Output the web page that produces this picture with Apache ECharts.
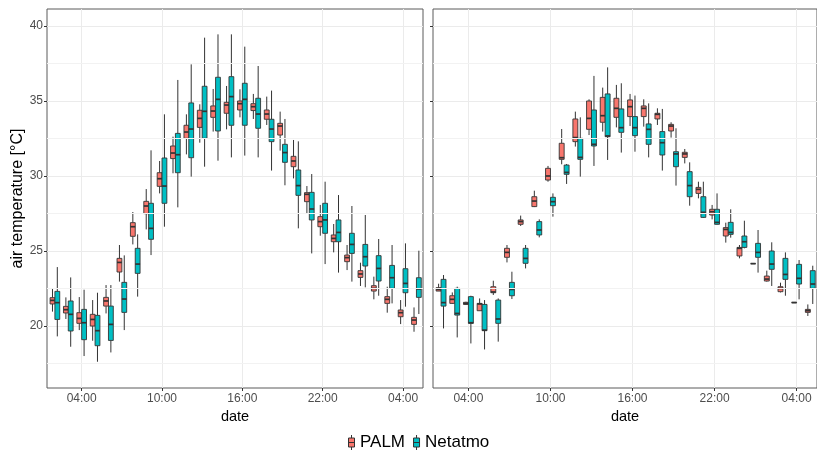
<!DOCTYPE html>
<html><head><meta charset="utf-8">
<script src="https://cdn.jsdelivr.net/npm/echarts@6/dist/echarts.min.js"></script>
<style>html,body{margin:0;padding:0;background:#fff}#c{width:817px;height:450px}</style>
</head><body><div id="c"></div>
<script>
// hours since 00:00 of day 1 (28 = 04:00 next day)
const hours = [2,3,4,5,6,7,8,9,10,11,12,13,14,15,16,17,18,19,20,21,22,23,24,25,26,27,28,29];
const xTickHours = [4,10,16,22,28];
const yTickValues = [20,25,30,35,40];
const yMinorValues = [17.5,22.5,27.5,32.5,37.5];
const seriesNames = ['PALM','Netatmo'];

// each entry: [lower whisker, Q1, median, Q3, upper whisker]
const palmLeft = [
[20.96,21.47,21.71,21.89,22.51],[20.47,20.87,21.09,21.31,21.91],[19.73,20.18,20.51,20.89,21.93],
[19.02,20.0,20.44,20.78,21.73],[20.84,21.33,21.67,21.91,22.73],[22.96,23.6,24.24,24.51,25.4],
[25.44,25.98,26.62,26.89,27.6],[26.44,27.49,28.0,28.31,29.13],[28.84,29.31,29.82,30.22,31.0],
[30.18,31.16,31.53,32.0,32.62],[31.44,32.51,32.93,33.38,34.11],[32.22,33.24,33.84,34.38,34.78],
[32.96,33.91,34.33,34.67,35.8],[33.11,34.18,34.73,34.91,36.0],[33.91,34.4,34.82,35.0,35.78],
[33.8,34.36,34.62,34.82,35.47],[33.4,33.78,34.13,34.4,35.29],[31.69,32.73,33.33,33.51,34.29],
[29.84,30.62,31.0,31.31,32.4],[27.51,28.29,28.78,28.89,29.33],[26.02,26.62,26.96,27.29,28.07],
[24.91,25.62,25.84,26.07,26.8],[23.73,24.29,24.56,24.73,25.4],[22.67,23.24,23.47,23.69,24.22],
[21.78,22.33,22.51,22.69,23.29],[20.89,21.51,21.78,21.96,22.62],[20.13,20.62,20.89,21.07,21.73],
[19.62,20.11,20.4,20.58,21.24]];
const netatmoLeft = [
[19.31,20.44,21.56,22.31,23.93],[18.62,19.67,20.78,21.67,23.24],[18.0,19.09,20.22,21.11,22.42],
[17.62,18.69,19.69,20.71,22.22],[18.24,19.04,20.11,21.33,22.73],[19.73,20.91,21.8,22.91,24.71],
[21.96,23.51,24.13,25.18,26.11],[24.73,25.78,26.51,28.18,31.71],[26.62,28.18,29.33,31.2,34.11],
[27.91,30.22,31.42,32.84,36.4],[29.96,31.22,33.13,34.87,37.44],[30.62,32.51,34.31,35.98,39.22],
[31.02,33.0,35.11,36.58,39.44],[31.24,33.38,35.29,36.62,39.44],[31.36,33.38,35.11,36.18,38.62],
[31.24,33.18,34.13,35.18,37.33],[30.36,32.29,33.13,33.78,35.69],[29.38,30.91,31.56,32.11,33.8],
[26.51,28.71,29.36,30.4,32.31],[24.84,27.07,27.8,28.91,30.13],[24.13,26.18,27.07,28.18,29.62],
[23.56,25.62,26.24,27.07,28.73],[22.96,24.84,25.44,26.18,28.0],[22.58,24.0,24.62,25.44,27.4],
[22.02,23.0,23.84,24.69,25.8],[21.51,22.51,23.22,24.04,25.4],[21.29,22.22,22.84,23.82,25.51],
[20.8,21.91,22.47,23.22,25.02]];
const palmRight = [
[22.33,22.33,22.44,22.56,22.82],[21.47,21.51,21.78,22.02,22.24],[21.4,21.44,21.51,21.58,21.62],
[21.0,21.02,21.47,21.51,21.84],[22.07,22.22,22.27,22.62,23.02],[24.24,24.58,24.91,25.18,25.4],
[26.67,26.78,26.96,27.07,27.36],[27.93,27.96,28.33,28.62,29.02],[29.62,29.73,30.0,30.51,30.67],
[30.78,31.11,31.22,32.18,33.13],[31.96,32.29,32.56,33.8,34.29],[32.73,33.11,33.84,35.0,35.11],
[32.96,33.58,34.02,35.24,35.89],[33.24,33.91,34.51,35.18,36.07],[33.33,33.96,34.62,35.07,35.47],
[33.29,33.96,34.51,34.67,35.11],[33.4,33.8,34.11,34.18,34.51],[32.56,33.0,33.33,33.44,33.58],
[30.84,31.24,31.47,31.58,31.8],[28.51,28.84,29.11,29.24,29.62],[27.11,27.4,27.62,27.78,28.07],
[25.56,26.0,26.44,26.56,26.89],[24.51,24.67,25.18,25.24,25.4],[24.16,24.16,24.16,24.16,24.16],
[22.96,23.0,23.13,23.33,23.69],[22.24,22.29,22.51,22.62,22.89],[21.56,21.56,21.56,21.58,21.6],
[20.67,20.91,21.02,21.11,21.44]];
const netatmoRight = [
[19.84,21.33,21.56,23.11,23.4],[19.24,20.73,20.84,22.51,22.62],[18.84,20.18,20.22,21.96,22.02],
[18.44,19.69,19.73,21.44,21.73],[18.96,20.18,20.47,21.73,21.84],[21.8,22.02,22.44,22.91,23.62],
[23.84,24.18,24.51,25.18,25.4],[25.91,26.07,26.4,26.96,27.11],[27.29,28.02,28.29,28.58,28.84],
[29.47,30.11,30.24,30.73,30.8],[29.96,31.11,31.24,32.51,33.91],[30.67,32.0,32.11,34.4,36.67],
[31.07,32.62,32.67,35.47,37.24],[31.56,32.91,33.22,34.47,36.18],[31.62,32.69,33.22,33.96,35.36],
[31.24,32.11,33.11,33.47,34.84],[30.36,31.4,32.22,32.96,34.47],[29.36,30.62,31.47,31.62,33.18],
[28.02,28.62,29.36,30.29,30.91],[27.2,27.24,27.58,28.62,29.62],[26.75,26.78,26.91,27.78,28.84],
[25.89,26.11,26.24,26.91,27.78],[25.18,25.24,25.62,26.0,27.02],[23.56,24.58,24.91,25.51,26.4],
[22.67,23.78,24.13,25.0,25.58],[22.02,23.11,23.44,24.51,24.91],[21.78,22.8,23.18,24.11,24.4],
[21.47,22.51,22.8,23.69,24.02]];

const COLORS = {PALM:'#F8766D', Netatmo:'#00BFC4'};
const BOX_W = 0.36, DODGE = 0.18;
const EDGE = '#333333';
const FONT = '"Liberation Sans", Arial, sans-serif';

function makeRender(offset){
  return function(params, api){
    const x = api.value(0) + offset;
    const lo = api.coord([x, api.value(1)]);
    const q1 = api.coord([x, api.value(2)]);
    const md = api.coord([x, api.value(3)]);
    const q3 = api.coord([x, api.value(4)]);
    const hi = api.coord([x, api.value(5)]);
    const w = api.size([BOX_W, 0])[0];
    const cx = lo[0];
    const fill = api.visual('color');
    return {type:'group', children:[
      {type:'line', shape:{x1:cx,y1:hi[1],x2:cx,y2:q3[1]}, style:{stroke:EDGE,lineWidth:1}},
      {type:'line', shape:{x1:cx,y1:q1[1],x2:cx,y2:lo[1]}, style:{stroke:EDGE,lineWidth:1}},
      {type:'rect', shape:{x:cx-w/2,y:q3[1],width:w,height:Math.max(q1[1]-q3[1],0.01)}, style:{fill:fill,stroke:EDGE,lineWidth:0.9}},
      {type:'line', shape:{x1:cx-w/2,y1:md[1],x2:cx+w/2,y2:md[1]}, style:{stroke:EDGE,lineWidth:1.7}}
    ]};
  };
}
function toData(arr){ return hours.map((h,i)=>[h].concat(arr[i])); }
function fmtHour(v){ return String(((v%24)+24)%24).padStart(2,'0') + ':00'; }

const grids = [
  {left:47, width:376, top:9, bottom:62, show:true, borderColor:'#5a5a5a', borderWidth:1, backgroundColor:'#fff'},
  {left:433, width:388, top:9, bottom:62, show:true, borderColor:'#5a5a5a', borderWidth:1, backgroundColor:'#fff'}
];
const xAxes = [0,1].map(i=>({
  type:'value', gridIndex:i, min:1.41, max:29.49,
  name:'date', nameLocation:'middle', nameGap:21,
  nameTextStyle:{fontFamily:FONT, fontSize:14.5, color:'#000'},
  axisLine:{show:false},
  axisTick:{show:true, length:3, inside:false, lineStyle:{color:EDGE}, customValues:xTickHours},
  axisLabel:{show:true, margin:5, fontFamily:FONT, fontSize:12, color:'#4D4D4D', formatter:fmtHour, customValues:xTickHours, showMinLabel:true, showMaxLabel:true},
  splitLine:{show:true, lineStyle:{color:'#EBEBEB', width:1}}
}));
const yAxes = [0,1].map(i=>({
  type:'value', gridIndex:i, min:15.87, max:41.13,
  name: i===0 ? 'air temperature [°C]' : '', nameLocation:'middle', nameGap:18,
  nameTextStyle:{fontFamily:FONT, fontSize:16, color:'#000'},
  axisLine:{show:false},
  axisTick:{show:true, length:3, inside:false, lineStyle:{color:EDGE}, customValues:yTickValues},
  axisLabel:{show:i===0, margin:4, fontFamily:FONT, fontSize:12, color:'#4D4D4D', customValues:yTickValues},
  splitLine:{show:true, lineStyle:{color:'#EBEBEB', width:1}}
}));

const series = [];
[[palmLeft, netatmoLeft],[palmRight, netatmoRight]].forEach((pair, gi)=>{
  series.push({
    type:'line', name:'_minor'+gi, xAxisIndex:gi, yAxisIndex:gi, data:[], z:1, silent:true,
    markLine:{silent:true, symbol:'none', label:{show:false}, animation:false,
      lineStyle:{color:'#F2F2F2', width:1, type:'solid'},
      data: yMinorValues.map(v=>({yAxis:v}))}
  });
  pair.forEach((arr, si)=>{
    const nm = seriesNames[si];
    series.push({
      type:'custom', name:nm, xAxisIndex:gi, yAxisIndex:gi, z:3,
      renderItem: makeRender(si===0 ? -DODGE : DODGE),
      itemStyle:{color:COLORS[nm]},
      encode:{x:0, y:[1,2,3,4,5]},
      data: toData(arr), animation:false
    });
  });
});

const keyIcon = 'path://M3,0V3M3,12V15M0,3H6V12H0ZM0,7.5H6';
const option = {
  backgroundColor:'#ffffff',
  animation:false,
  grid: grids, xAxis: xAxes, yAxis: yAxes, series: series,
  legend:{
    left:343, top:429, orient:'horizontal', itemGap:8, itemWidth:7, itemHeight:15,
    textStyle:{fontFamily:FONT, fontSize:17, color:'#000'},
    data: seriesNames.map(n=>({name:n, icon:keyIcon, itemStyle:{color:COLORS[n], borderColor:EDGE, borderWidth:1}}))
  }
};
const chart = echarts.init(document.getElementById('c'), null, {renderer:'canvas'});
chart.setOption(option);
</script></body></html>
